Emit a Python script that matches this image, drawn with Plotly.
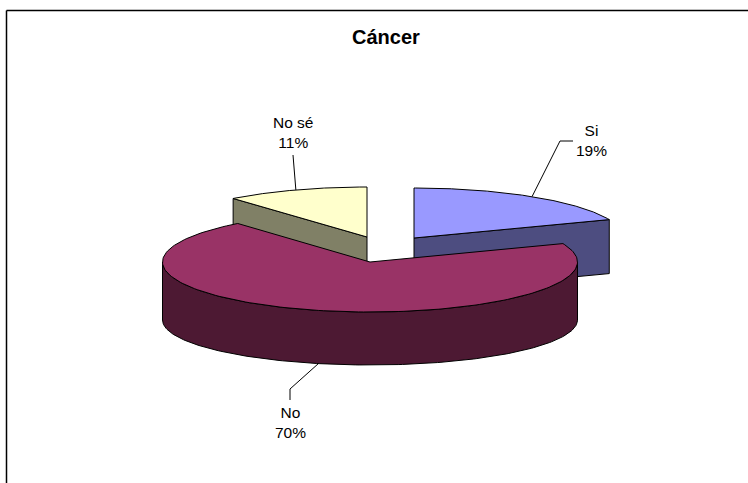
import numpy as np
import plotly.graph_objects as go

title = "Cáncer"
categories = ["Si", "No", "No sé"]
values = [19, 70, 11]
top_colors = ["#9999FF", "#993366", "#FFFFCC"]
side_colors = ["#4D4D80", "#4D1933", "#808066"]

# view geometry of the tilted pie, in page pixels
W, H = 748, 483
DEPTH = 54
RIM_DROP, RIM_RY = 58, 45  # lower edge of the front slice (perspective)
centers = [(414, 238), (370, 262), (367, 237)]
radii = [(210, 50), (207.5, 50), (210, 50)]
label_pos = [(591, 140.5), (290, 422.5), (293, 132)]
elbows = [[(560, 141), (573, 141)], [(290, 389), (290, 400)], [(293, 155)]]

total = sum(values)
start = 90.0
spans = []
for v in values:
    end = start - 360.0 * v / total
    spans.append((start, end))
    start = end


def pt(c, r, t, dz=0.0):
    a = np.radians(t)
    return c[0] + r[0] * np.cos(a), c[1] - r[1] * np.sin(a) + dz


def arc(c, r, t0, t1, dz=0.0):
    ts = np.linspace(t0, t1, 181)
    a = np.radians(ts)
    return list(c[0] + r[0] * np.cos(a)), list(c[1] - r[1] * np.sin(a) + dz)


fig = go.Figure()


def poly(xs, ys, color):
    fig.add_trace(go.Scatter(x=xs + xs[:1], y=ys + ys[:1], mode="lines", fill="toself",
                             fillcolor=color, line=dict(color="black", width=1),
                             hoverinfo="skip", showlegend=False))


def radial_face(i, t):
    c, r = centers[i], radii[i]
    e = pt(c, r, t)
    poly([c[0], e[0], e[0], c[0]], [c[1], e[1], e[1] + DEPTH, c[1] + DEPTH], side_colors[i])


def top(i):
    c, r = centers[i], radii[i]
    x, y = arc(c, r, *spans[i])
    poly([c[0]] + x, [c[1]] + y, top_colors[i])


# back slices first
radial_face(2, spans[2][0])
top(2)
radial_face(0, spans[0][1])
top(0)

# front slice: only the near rim is visible
c, r = centers[1], radii[1]
low_r = (r[0], RIM_RY)
x0, y0 = arc(c, r, 0, -180)
x1, y1 = arc(c, low_r, -180, 0, RIM_DROP)
poly(x0 + x1, y0 + y1, side_colors[1])
top(1)

# leader lines
for i in range(3):
    t = (spans[i][0] + spans[i][1]) / 2
    if np.sin(np.radians(t)) < 0:
        a = pt(centers[i], low_r, t, RIM_DROP)
    else:
        a = pt(centers[i], radii[i], t)
    pts = [a] + elbows[i]
    fig.add_trace(go.Scatter(x=[p[0] for p in pts], y=[p[1] for p in pts], mode="lines",
                             line=dict(color="black", width=1), hoverinfo="skip", showlegend=False))

annotations = [dict(x=label_pos[i][0], y=label_pos[i][1], xref="x", yref="y",
                    text=f"{categories[i]}<br>{values[i]}%", showarrow=False,
                    font=dict(family="Liberation Sans, Arial", size=15.5, color="black"),
                    align="center")
               for i in range(3)]
annotations.append(dict(x=386, y=37, xref="x", yref="y", text=f"<b>{title}</b>", showarrow=False,
                        font=dict(family="Liberation Sans, Arial", size=20, color="black")))

frame = dict(type="line", xref="x", yref="y", line=dict(color="black", width=1.5), layer="above")
fig.update_layout(
    width=W, height=H, margin=dict(l=0, r=0, t=0, b=0),
    paper_bgcolor="white", plot_bgcolor="white",
    xaxis=dict(range=[0, W], visible=False, fixedrange=True),
    yaxis=dict(range=[H, 0], visible=False, fixedrange=True),
    annotations=annotations,
    shapes=[dict(frame, x0=6.5, y0=10.5, x1=W, y1=10.5),
            dict(frame, x0=6.5, y0=10.5, x1=6.5, y1=H)],
)
fig.write_html("out.html", config={"displayModeBar": False},
               post_script="document.body.style.margin='0';document.body.style.overflow='hidden';")
